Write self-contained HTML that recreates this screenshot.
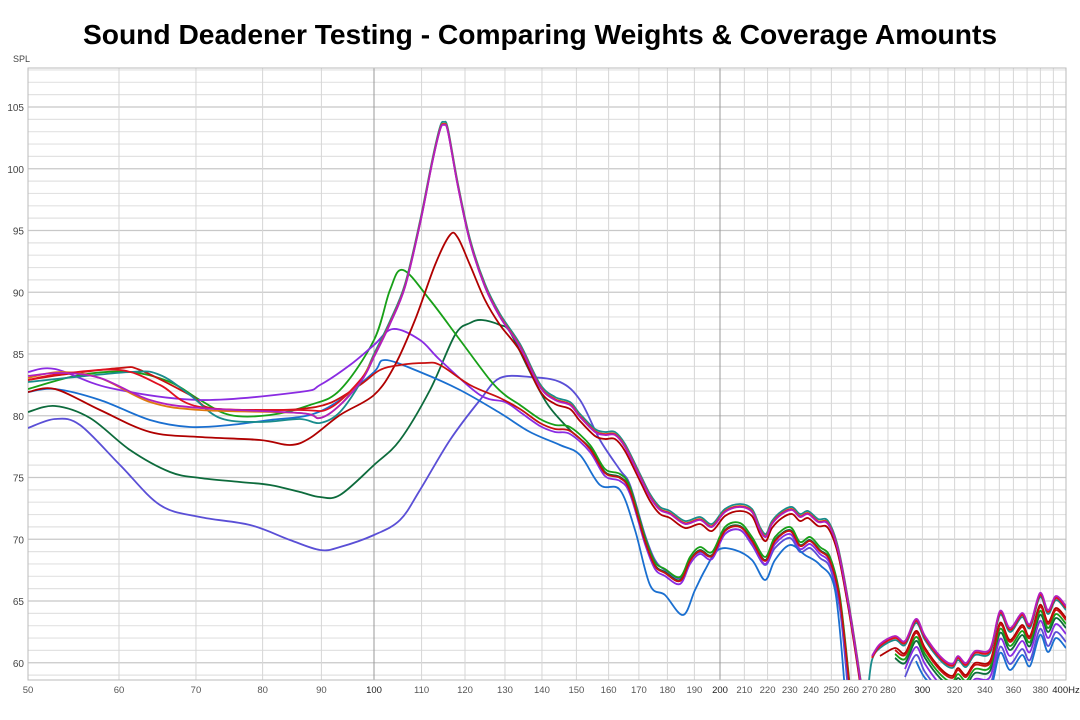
<!DOCTYPE html>
<html><head><meta charset="utf-8"><style>
body{margin:0;background:#fff;width:1080px;height:720px;overflow:hidden;font-family:"Liberation Sans",sans-serif}
h1{position:absolute;top:18px;left:0;width:1080px;text-align:center;margin:0;font-size:28.2px;font-weight:bold;color:#000}
svg{position:absolute;left:0;top:0}
</style></head><body>
<h1>Sound Deadener Testing - Comparing Weights &amp; Coverage Amounts</h1>
<svg id="s" width="1080" height="720" xmlns="http://www.w3.org/2000/svg"></svg>
<script>
const S=document.getElementById('s');let h='';
const X0=28,X1=1066,Y0=68,Y1=680;
const fx=f=>28+346*Math.log2(f/50), fy=d=>107+(105-d)*12.35;
for(let d=59;d<=108;d++){const y=fy(d);if(y<Y0||y>Y1)continue;h+=`<line x1="${X0}" x2="${X1}" y1="${y}" y2="${y}" stroke="${d%5==0?'#c8c8c8':'#e2e2e2'}" stroke-width="${d%5==0?1.3:1.2}"/>`;}
let fs=[];for(let f=50;f<=400;f+=10)fs.push(f);
fs.forEach(f=>{const x=fx(f);h+=`<line x1="${x}" x2="${x}" y1="${Y0}" y2="${Y1}" stroke="${f==100||f==200?'#999':'#d6d6d6'}" stroke-width="1"/>`;});
h+=`<rect x="${X0}" y="${Y0}" width="${X1-X0}" height="${Y1-Y0}" fill="none" stroke="#bbb"/>`;
for(let d=60;d<=105;d+=5)h+=`<text x="24" y="${fy(d)+4}" font-size="10" text-anchor="end" fill="#444">${d}</text>`;
h+=`<text x="13" y="62" font-size="9" fill="#444">SPL</text>`;
[50,60,70,80,90,100,110,120,130,140,150,160,170,180,190,200,210,220,230,240,250,260,270,280,300,320,340,360,380].forEach(f=>{h+=`<text x="${fx(f)}" y="693" font-size="9.5" text-anchor="middle" fill="${f==100||f==200||f==300?'#222':'#555'}">${f}</text>`;});
h+=`<text x="1066" y="693" font-size="9.5" text-anchor="middle" fill="#222">400Hz</text>`;
function path(pts){let d=`M${pts[0][0]},${pts[0][1]}`;for(let i=0;i<pts.length-1;i++){const p0=pts[i-1]||pts[i],p1=pts[i],p2=pts[i+1],p3=pts[i+2]||p2;
d+=` C${(p1[0]+(p2[0]-p0[0])/6).toFixed(1)},${(p1[1]+(p2[1]-p0[1])/6).toFixed(1)} ${(p2[0]-(p3[0]-p1[0])/6).toFixed(1)},${(p2[1]-(p3[1]-p1[1])/6).toFixed(1)} ${p2[0]},${p2[1]}`;}return d;}
const off=(a,dy)=>a.map(p=>[p[0],p[1]+dy]);
const peak=[[374,355],[390,322],[405,285],[420,222],[432,162],[440,128],[444,123],[448,130],[458,185],[470,240],[485,285],[500,315],[520,345],[540,385],[555,398],[570,403],[580,415],[595,430],[605,433],[615,433],[625,445],[640,475],[650,495],[660,508],[670,512],[685,522],[700,518],[712,525],[725,510],[740,505],[752,510],[760,528],[766,535],[772,522],[782,512],[792,508],[800,515],[808,512],[818,520],[828,522],[838,548],[848,600],[856,650],[862,690]];
const hiBase=[[868,690],[872,660],[880,648],[895,640],[905,645],[916,623],[925,640],[940,660],[952,668],[958,660],[966,667],[975,655],[990,653],[1000,615],[1010,632],[1022,617],[1030,628],[1040,597],[1048,614],[1056,600],[1066,610]];
const low=[[500,395],[520,408],[540,422],[555,428],[570,430],[590,448],[605,472],[620,477],[630,490],[645,540],[655,565],[665,572],[680,580],[690,560],[700,550],[712,555],[725,530],[740,526],[752,540],[765,560],[775,540],[790,530],[800,545],[810,540],[820,550],[830,560],[840,600],[850,690]];
const hi=(dy,start)=>off(hiBase,dy).filter(p=>p[0]>=start).map(p=>[p[0],Math.min(p[1],690)]);
const series=[
 ['#5a4fd6',[[28,428],[55,419],[80,425],[120,465],[160,505],[200,517],[250,525],[290,540],[320,550],[340,547],[374,535],[400,520],[420,490],[450,440],[480,400],[500,378],[530,377],[560,382],[580,400],[600,440],[620,470],[630,485],[645,535],[655,560],[665,570],[680,578],[690,560],[700,552],[712,556],[725,534],[740,530],[752,545],[765,565],[775,548],[790,538],[800,552],[810,548],[820,558],[830,568],[840,610],[848,690]],hi(32,905)],
 ['#0d6b3c',[[28,412],[55,406],[90,418],[130,450],[170,472],[200,478],[240,482],[270,485],[300,492],[320,497],[340,495],[374,465],[400,440],[430,390],[455,335],[470,323],[482,320],[500,325],[510,332],[530,372],[548,405]].concat(off(low,0).filter(p=>p[0]>555)),hi(18,895)],
 ['#1a6fd0',[[28,392],[55,389],[100,400],[150,420],[190,427],[230,425],[270,420],[310,415],[340,400],[374,372],[385,360],[420,372],[460,390],[500,413],[530,432],[560,445],[580,455],[600,485],[620,490],[635,530],[650,585],[665,595],[683,615],[695,590],[705,570],[718,550],[735,550],[752,560],[765,580],[775,560],[790,545],[805,555],[820,565],[835,590],[845,690]],hi(38,910)],
 ['#18a018',[[28,389],[80,375],[130,372],[170,382],[200,400],[230,415],[270,415],[310,405],[340,390],[374,340],[390,290],[403,270],[430,300],[460,340],[490,380],[505,395]].concat(off(low,-3).filter(p=>p[0]>510)),hi(14,890)],
 ['#8a2be2',[[28,372],[55,369],[110,388],[200,400],[300,392],[320,385],[350,365],[374,345],[393,329],[420,340],[440,360],[480,395],[505,402]].concat(off(low,4).filter(p=>p[0]>510)),hi(24,905)],
 ['#b00000',[[28,392],[55,389],[100,410],[150,432],[200,437],[260,440],[290,445],[310,438],[340,415],[374,395],[395,365],[415,320],[435,265],[450,235],[458,238],[470,265],[485,300],[500,325]].concat(off(peak,6).filter(p=>p[0]>510)),hi(8,880)],
 ['#c81010',[[28,380],[60,375],[120,368],[140,370],[190,395],[210,408],[260,410],[300,409],[330,403],[360,385],[380,370],[400,365],[425,363],[440,365],[470,385],[500,398]].concat(off(low,1).filter(p=>p[0]>505)),hi(10,885)],
 ['#198c8c',[[28,382],[130,372],[160,375],[190,395],[220,418],[260,422],[300,419],[320,423],[340,412],[362,380]].concat(off(peak,-1)),hi(0,868)],
 ['#e07a10',[[28,378],[60,372],[100,378],[150,402],[200,410],[300,413],[320,418],[340,405],[362,378]].concat(off(peak,1)),hi(-3,870)],
 ['#e01020',[[28,380],[60,374],[120,370],[160,385],[200,407],[300,410],[330,408],[362,378]].concat(off(peak,1.5)),hi(-2,870)],
 ['#b020c0',[[28,376],[60,373],[100,378],[150,400],[200,408],[300,413],[320,418],[340,405],[362,380]].concat(off(peak,2)),hi(-4,870)],
];
h+=`<defs><clipPath id="c"><rect x="${X0}" y="${Y0}" width="${X1-X0}" height="${Y1-Y0}"/></clipPath></defs><g clip-path="url(#c)" fill="none" stroke-width="1.8" stroke-linejoin="round">`;
series.forEach(([c,a,b])=>{h+=`<path d="${path(a)}" stroke="${c}"/>`;if(b&&b.length>1)h+=`<path d="${path(b)}" stroke="${c}"/>`;});
h+='</g>';
S.innerHTML=h;
</script>
</body></html>
